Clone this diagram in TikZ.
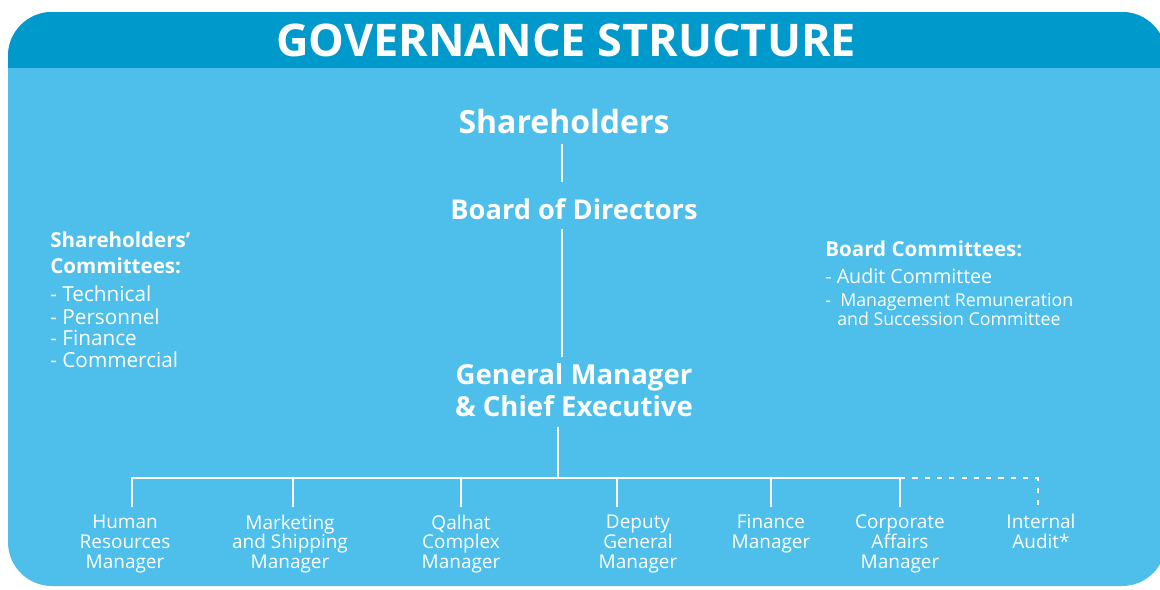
\documentclass[tikz,border=0pt]{standalone}
\usepackage{fontspec}
\setmainfont{Open Sans}
\usetikzlibrary{calc}
\definecolor{headblue}{RGB}{0,153,204}
\definecolor{bodyblue}{RGB}{77,191,234}
\def\bary{478}
\def\tipy{507}

\begin{document}
\begin{tikzpicture}[x=0.02cm, y=-0.02cm]
	\tikzstyle{chief} = [text=white, inner sep=0pt, align=center]
	\tikzstyle{staff} = [text=white, inner sep=0pt, align=center, font=\fontsize{10.8}{11.3}\selectfont]
	\tikzstyle{note}  = [text=white, inner sep=0pt, anchor=base west]
	\tikzstyle{link}  = [draw=white, line width=0.85pt]
	\tikzstyle{dotlink} = [link, dash pattern=on 3pt off 4pt]
	\useasboundingbox (0,0) rectangle (1160,589);

	%% panel and header band
	\fill[bodyblue, rounded corners=25] (8,12) rectangle (1166,586);
	\begin{scope}
		\clip (0,0) rectangle (1160,67);
		\fill[headblue, rounded corners=25] (8,12) rectangle (1166,586);
	\end{scope}
	\node[text=white, font=\bfseries\fontsize{25.6}{28}\selectfont] (title) at (566,40) {GOVERNANCE STRUCTURE};

	%% main chain
	\node [chief, anchor=base, font=\bfseries\fontsize{18.2}{20}\selectfont] (sh) at (564,133) {Shareholders};
	\node [chief, anchor=base, font=\bfseries\fontsize{15.5}{18}\selectfont] (bod) at (574,219) {Board of Directors};
	\node [chief, font=\bfseries\fontsize{15.7}{18.1}\selectfont] (gm) at (574,390) {General Manager\\\& Chief Executive};
	\coordinate (trunk) at (562,0);
	\coordinate (gmtrunk) at (558,0);

	\draw[link] ($(sh.south -| trunk) + (0,10)$) -- ($(bod.north -| trunk) + (0,-16)$);
	\draw[link] ($(bod.south -| trunk) + (0,9)$) -- ($(gm.north -| trunk) + (0,-6)$);
	\draw[link] ($(gm.south -| gmtrunk) + (0,10)$) -- (558,\bary) coordinate (bar);

	%% committees
	\node [note, font=\bfseries\fontsize{11.7}{13}\selectfont] (shc1) at (50,247) {Shareholders’};
	\node [note, font=\bfseries\fontsize{11.7}{13}\selectfont] (shc2) at (50,273) {Committees:};
	\node [note, font=\fontsize{11.8}{13}\selectfont] (shc3) at (50,301) {- Technical};
	\node [note, font=\fontsize{11.8}{13}\selectfont] (shc4) at (50,324) {- Personnel};
	\node [note, font=\fontsize{11.8}{13}\selectfont] (shc5) at (50,345) {- Finance};
	\node [note, font=\fontsize{11.8}{13}\selectfont] (shc6) at (50,367) {- Commercial};

	\node [note, font=\bfseries\fontsize{11.7}{13}\selectfont] (bc1) at (825,256) {Board Committees:};
	\node [note, font=\fontsize{11.2}{13}\selectfont] (bc2) at (825,283) {- Audit Committee};
	\node [note, font=\fontsize{10.1}{12}\selectfont] (bc3) at (825,306) {-\ \ Management Remuneration};
	\node [note, font=\fontsize{10.1}{12}\selectfont] (bc4) at (837,325) {and Succession Committee};

	%% staff
	\node [staff] (hr)  at (125,544) {Human\\Resources\\Manager};
	\node [staff] (mkt) at (290,544) {Marketing\\and Shipping\\Manager};
	\node [staff] (qal) at (461,544) {Qalhat\\Complex\\Manager};
	\node [staff] (dgm) at (638,544) {Deputy\\General\\Manager};
	\node [staff] (fin) at (771,534) {Finance\\Manager};
	\node [staff] (caf) at (900,544) {Corporate\\Affairs\\Manager};
	\node [staff] (ia)  at (1041,531) {Internal\\Audit*};

	\coordinate (thr) at (132,\tipy);
	\coordinate (tmkt) at (293,\tipy);
	\coordinate (tqal) at (461,\tipy);
	\coordinate (tdgm) at (617,\tipy);
	\coordinate (tfin) at (771,\tipy);
	\coordinate (tcaf) at (900,\tipy);
	\coordinate (tia) at (1038,505);

	\draw[link] (thr) |- (bar) -| (tcaf);
	\foreach \t in {tmkt, tqal, tdgm, tfin}
		\draw[link] (\t) -- (\t |- bar);
	\draw[dotlink] (tcaf |- bar) -| (tia);
\end{tikzpicture}
\end{document}
